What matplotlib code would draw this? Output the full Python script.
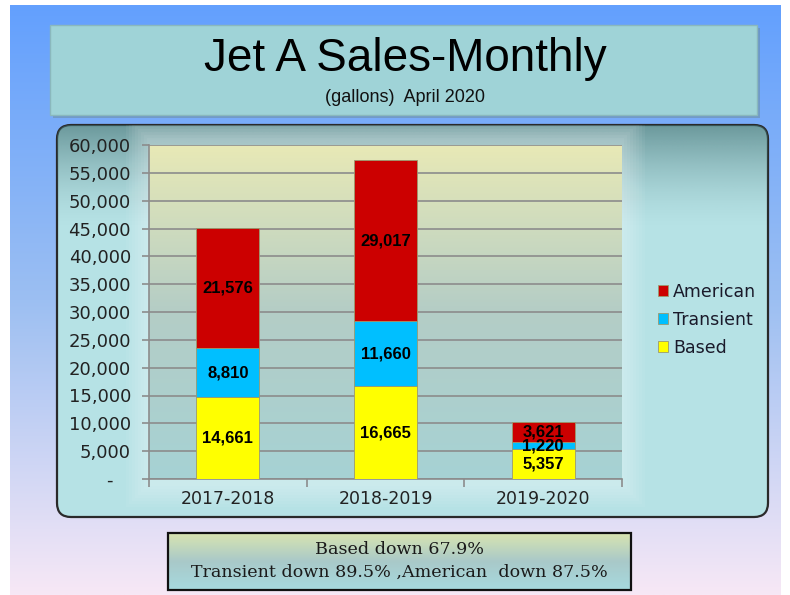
import matplotlib
matplotlib.use("Agg")
import matplotlib.pyplot as plt
import numpy as np
from matplotlib.patches import Rectangle, FancyBboxPatch
from matplotlib.colors import to_rgb

# ---------------- data ----------------
categories = ["2017-2018", "2018-2019", "2019-2020"]
based = [14661, 16665, 5357]
transient = [8810, 11660, 1220]
american = [21576, 29017, 3621]
series_names = ["Based", "Transient", "American"]
series_colors = ["#ffff00", "#00bfff", "#cc0000"]
yticks = [0, 5000, 10000, 15000, 20000, 25000, 30000, 35000, 40000, 45000, 50000, 55000, 60000]
title = "Jet A Sales-Monthly"
subtitle = "(gallons)  April 2020"
note_lines = ["Based down 67.9%", "Transient down 89.5% ,American  down 87.5%"]

W, H = 790, 595
fig = plt.figure(figsize=(W / 100, H / 100), dpi=100)
fig.patch.set_facecolor("white")

# background axes in pixel coordinates
bg = fig.add_axes([0, 0, 1, 1])
bg.set_xlim(0, W)
bg.set_ylim(H, 0)
bg.axis("off")


def vgrad(c_top, c_bot, n=256, mid=None):
    t = np.linspace(0, 1, n)[:, None]
    a = np.array(to_rgb(c_top))
    b = np.array(to_rgb(c_bot))
    if mid is None:
        arr = a * (1 - t) + b * t
    else:
        m = np.array(to_rgb(mid))
        arr = np.where(t < 0.5, a * (1 - 2 * t) + m * (2 * t), m * (2 - 2 * t) + b * (2 * t - 1))
    return arr[:, None, :].repeat(2, axis=1)


# page gradient
bg.imshow(vgrad("#63a0fe", "#f7e8f6", mid="#9cbff2"), extent=(10, 781, H, 5), aspect="auto",
          origin="upper", zorder=0, interpolation="bilinear")

# title box with shadow
bg.add_patch(Rectangle((53, 28), 707, 90, facecolor="#6d8fa8", edgecolor="none", alpha=0.6, zorder=1))
bg.add_patch(Rectangle((50, 25), 707, 90, facecolor="#9fd3d7", edgecolor="#8ab8bd", lw=1, zorder=2))
bg.text(405, 59, title, ha="center", va="center", fontsize=33, family="Liberation Sans", color="black", zorder=3)
bg.text(405, 98, subtitle, ha="center", va="center", fontsize=13, family="Liberation Sans", color="#111111", zorder=3)

# chart box
box = FancyBboxPatch((57, 125), 711, 392, boxstyle="round,pad=0,rounding_size=14",
                     facecolor="#b6e2e5", edgecolor="#2a2a2a", lw=1.6, zorder=2)
bg.add_patch(box)
shade = bg.imshow(np.dstack([np.full((256, 2, 3), to_rgb("#3f6d70")),
                             (np.linspace(0.75, 0, 256) ** 1.6)[:, None].repeat(2, axis=1)]),
                  extent=(57, 768, 230, 125), aspect="auto", origin="upper", zorder=2.5,
                  interpolation="bilinear")
shade.set_clip_path(box)
# soft glow around plot area
for k in range(8):
    d = 2 + k * 3
    g = Rectangle((149 - d, 140 - d), 473 + 2 * d, 344 + 2 * d, facecolor="white",
                  edgecolor="none", alpha=0.05, zorder=2.6)
    bg.add_patch(g)
    g.set_clip_path(box)

# bottom note box
bg.imshow(vgrad("#d8e4b0", "#a6dadf", mid="#a9c9c9"), extent=(168, 631, 590, 533), aspect="auto",
          origin="upper", zorder=2, interpolation="bilinear")
bg.add_patch(Rectangle((168, 533), 463, 57, facecolor="none", edgecolor="#111111", lw=1.6, zorder=3))
bg.text(399.5, 549, note_lines[0], ha="center", va="center", fontsize=12.6, family="DejaVu Serif", color="#1a1a1a", zorder=4)
bg.text(399.5, 572, note_lines[1], ha="center", va="center", fontsize=12.6, family="DejaVu Serif", color="#1a1a1a", zorder=4)

# main plot axes
x0, x1, ytop, ybot = 149, 622, 145, 479
ax = fig.add_axes([x0 / W, 1 - ybot / H, (x1 - x0) / W, (ybot - ytop) / H])
ax.set_xlim(-0.5, 2.5)
ax.set_ylim(0, 60000)
ax.imshow(vgrad("#e8e9b6", "#a6d2d4", mid="#b4cdc6"), extent=(-0.5, 2.5, 0, 60000), aspect="auto",
          origin="upper", zorder=0, interpolation="bilinear")
ax.set_axisbelow(True)
ax.yaxis.grid(True, color="#8c8c8c", lw=1.2, zorder=0.5)

x = np.arange(len(categories))
bottoms = np.zeros(len(categories))
handles = []
for vals, name, col in zip([based, transient, american], series_names, series_colors):
    vals = np.array(vals, dtype=float)
    b = ax.bar(x, vals, 0.4, bottom=bottoms, color=col, edgecolor="#9a9a70", lw=0.6, label=name, zorder=3)
    handles.append(b)
    for xi, v, bt in zip(x, vals, bottoms):
        ax.text(xi, bt + v / 2, f"{int(v):,}", ha="center", va="center", fontsize=12,
                fontweight="bold", family="Liberation Sans", color="black", zorder=4)
    bottoms = bottoms + vals

ax.set_yticks(yticks)
ax.set_yticklabels([f"{v:,}" if v else "-   " for v in yticks], fontsize=13, family="DejaVu Sans", color="#222222")
ax.set_xticks(x)
ax.set_xticklabels(categories, fontsize=12.5, family="DejaVu Sans", color="#222222")
ax.set_xticks([-0.5, 0.5, 1.5, 2.5], minor=True)
ax.tick_params(axis="x", which="major", length=0, pad=8)
ax.tick_params(axis="x", which="minor", length=6, color="#8c8c8c", width=1.2)
ax.tick_params(axis="y", length=5, color="#8c8c8c", width=1.2, pad=8)
for s in ["top", "right"]:
    ax.spines[s].set_visible(False)
for s in ["left", "bottom"]:
    ax.spines[s].set_color("#8c8c8c")
    ax.spines[s].set_linewidth(1.2)

leg = ax.legend(handles=handles[::-1], labels=series_names[::-1], loc="center left",
                bbox_to_anchor=(642 / W, 1 - 320 / H), bbox_transform=fig.transFigure,
                frameon=False, prop={"family": "DejaVu Sans", "size": 12.5},
                handlelength=0.6, handleheight=0.6, handletextpad=0.3, labelspacing=0.58)
for t in leg.get_texts():
    t.set_color("#1a1a2a")

fig.savefig("out.png", dpi=100)
